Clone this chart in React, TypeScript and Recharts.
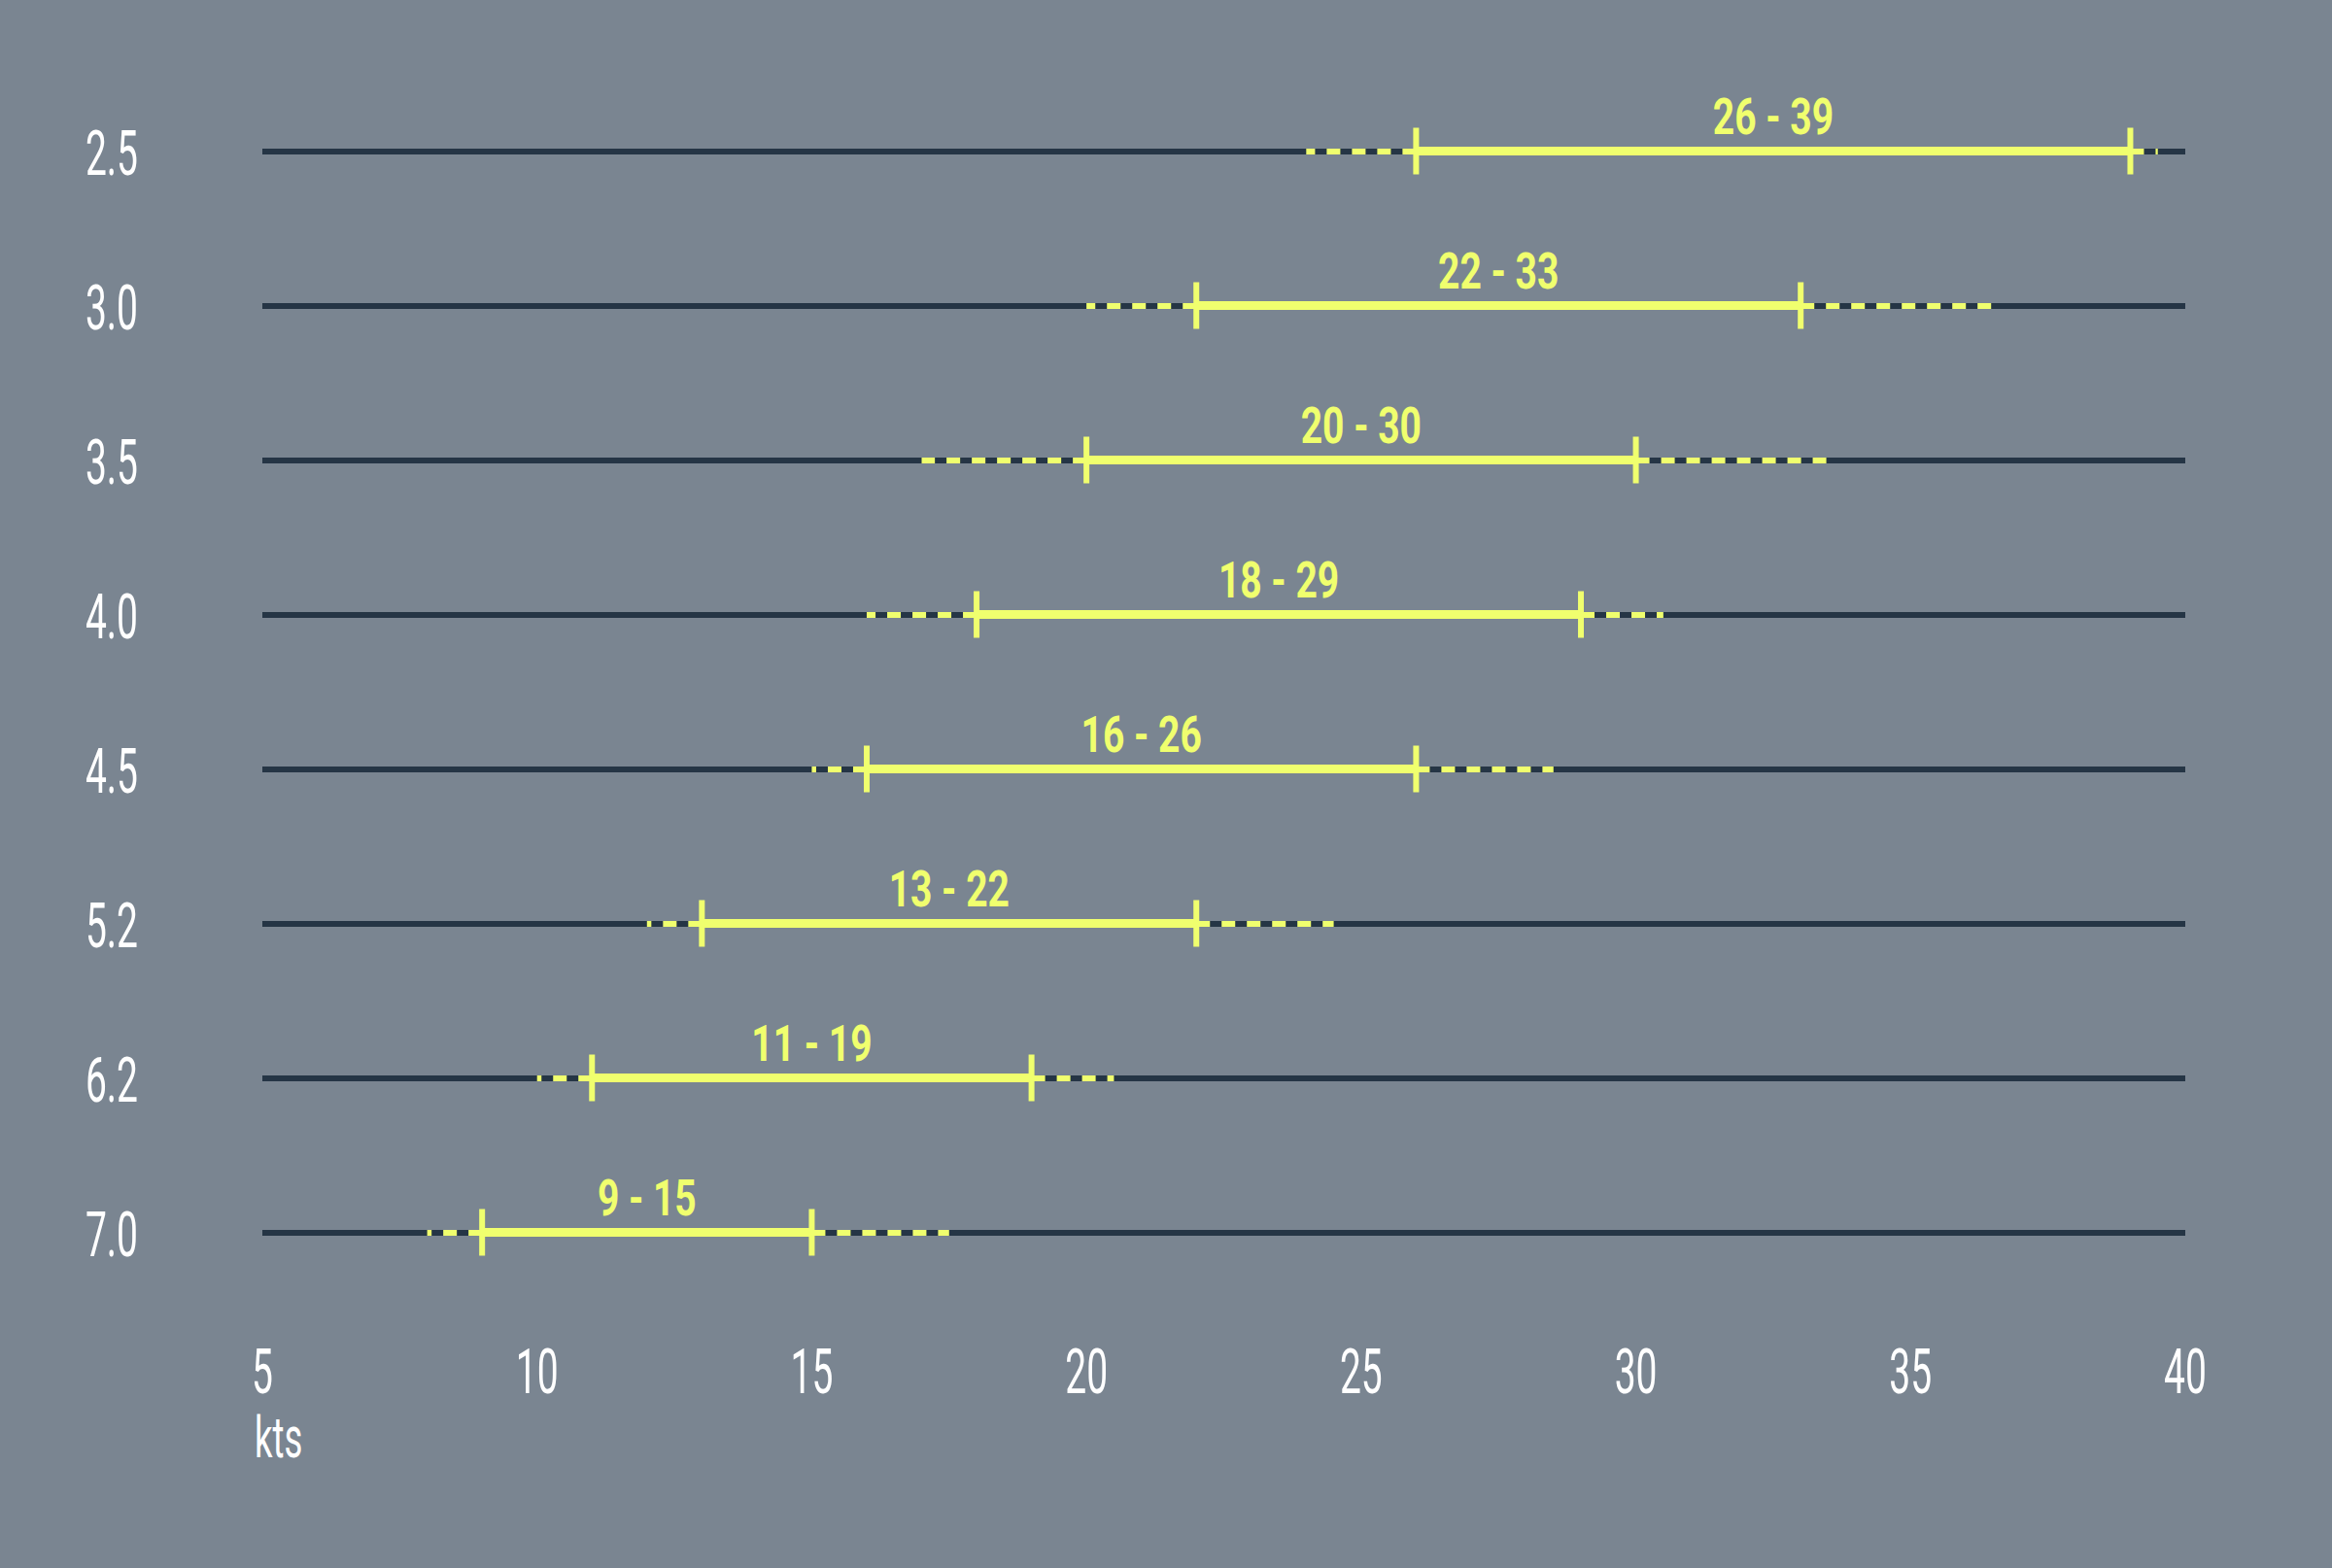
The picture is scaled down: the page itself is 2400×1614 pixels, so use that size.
import React from 'react';
import { ComposedChart, Bar, XAxis, YAxis, LabelList } from 'recharts';

// boat size rows (top to bottom) and the wind range for each
const sizes = ['2.5', '3.0', '3.5', '4.0', '4.5', '5.2', '6.2', '7.0'];
const windLow = [26, 22, 20, 18, 16, 13, 11, 9];
const windHigh = [39, 33, 30, 29, 26, 22, 19, 15];
const extLow = [24, 20, 17, 16, 15, 12, 10, 8];
const extHigh = [39.5, 36.5, 33.5, 30.5, 28.5, 24.5, 20.5, 17.5];
const xTicks = [5, 10, 15, 20, 25, 30, 35, 40];
const axisMin = 5;
const axisMax = 40;

const BG = '#7a8591';
const DARK = '#253545';
const YELLOW = '#f0ff6e';
const FONT = 'Roboto, "Liberation Sans Narrow", sans-serif';

const data = sizes.map((size, i) => ({
  size,
  full: [axisMin, axisMax],
  left: [extLow[i], windLow[i]],
  core: [windLow[i], windHigh[i]],
  right: [windHigh[i], extHigh[i]],
  label: `${windLow[i]} - ${windHigh[i]}`,
}));

// dashes start at the solid end and run outwards
const LeftDash = (props: any) => {
  const { x, y, width, height } = props;
  const cy = y + height / 2;
  return <line x1={x + width} x2={x} y1={cy} y2={cy} stroke={YELLOW} strokeWidth={6} strokeDasharray="14 12" />;
};

const RightDash = (props: any) => {
  const { x, y, width, height } = props;
  const cy = y + height / 2;
  return <line x1={x} x2={x + width} y1={cy} y2={cy} stroke={YELLOW} strokeWidth={6} strokeDasharray="14 12" />;
};

const CoreShape = (props: any) => {
  const { x, y, width, height } = props;
  const cy = y + height / 2;
  return (
    <g>
      <rect x={x} y={y} width={width} height={height} fill={YELLOW} />
      <line x1={x} x2={x} y1={cy - 24} y2={cy + 24} stroke={YELLOW} strokeWidth={6} />
      <line x1={x + width} x2={x + width} y1={cy - 24} y2={cy + 24} stroke={YELLOW} strokeWidth={6} />
    </g>
  );
};

const RangeLabel = (props: any) => {
  const vb = props.viewBox || props;
  const cx = vb.x + vb.width / 2;
  const cy = vb.y + vb.height / 2;
  return (
    <text
      transform={`translate(${cx},${cy - 18}) scale(0.75,1)`}
      textAnchor="middle"
      fill={YELLOW}
      fontSize={52}
      fontWeight={700}
      fontFamily={FONT}
    >
      {props.value}
    </text>
  );
};

const XTick = (props: any) => {
  const { x, y, payload } = props;
  return (
    <text transform={`translate(${x},${y}) scale(0.6,1)`} textAnchor="middle" fill="#ffffff" fontSize={65} fontFamily={FONT}>
      {payload.value}
    </text>
  );
};

const YTick = (props: any) => {
  const { x, y, payload } = props;
  return (
    <text transform={`translate(${x},${y + 24}) scale(0.6,1)`} textAnchor="end" fill="#ffffff" fontSize={65} fontFamily={FONT}>
      {payload.value}
    </text>
  );
};

const KtsLabel = (props: any) => {
  const vb = props.viewBox || {};
  return (
    <text transform={`translate(${vb.x - 8},${vb.y + 152}) scale(0.62,1)`} textAnchor="start" fill="#ffffff" fontSize={59} fontFamily={FONT}>
      kts
    </text>
  );
};

export default function App() {
  return (
    <div style={{ position: 'absolute', left: 0, top: 0, width: 2400, height: 1614, background: BG }}>
      <ComposedChart
        width={2400}
        height={1614}
        data={data}
        layout="vertical"
        margin={{ top: 76, right: 151, bottom: 166, left: 0 }}
      >
        <XAxis
          type="number"
          domain={[axisMin, axisMax]}
          ticks={xTicks}
          interval={0}
          axisLine={false}
          tickLine={false}
          tickSize={0}
          tickMargin={86}
          height={100}
          tick={<XTick />}
          label={<KtsLabel />}
        />
        <YAxis
          yAxisId="base"
          type="category"
          dataKey="size"
          width={270}
          interval={0}
          axisLine={false}
          tickLine={false}
          tickSize={0}
          tickMargin={128}
          tick={<YTick />}
        />
        <YAxis yAxisId="left" type="category" dataKey="size" hide />
        <YAxis yAxisId="core" type="category" dataKey="size" hide />
        <YAxis yAxisId="right" type="category" dataKey="size" hide />

        <Bar yAxisId="base" dataKey="full" barSize={6} fill={DARK} isAnimationActive={false} />
        <Bar yAxisId="left" dataKey="left" barSize={6} shape={<LeftDash />} isAnimationActive={false} />
        <Bar yAxisId="right" dataKey="right" barSize={6} shape={<RightDash />} isAnimationActive={false} />
        <Bar yAxisId="core" dataKey="core" barSize={9} shape={<CoreShape />} isAnimationActive={false}>
          <LabelList dataKey="label" content={<RangeLabel />} />
        </Bar>
      </ComposedChart>
    </div>
  );
}
